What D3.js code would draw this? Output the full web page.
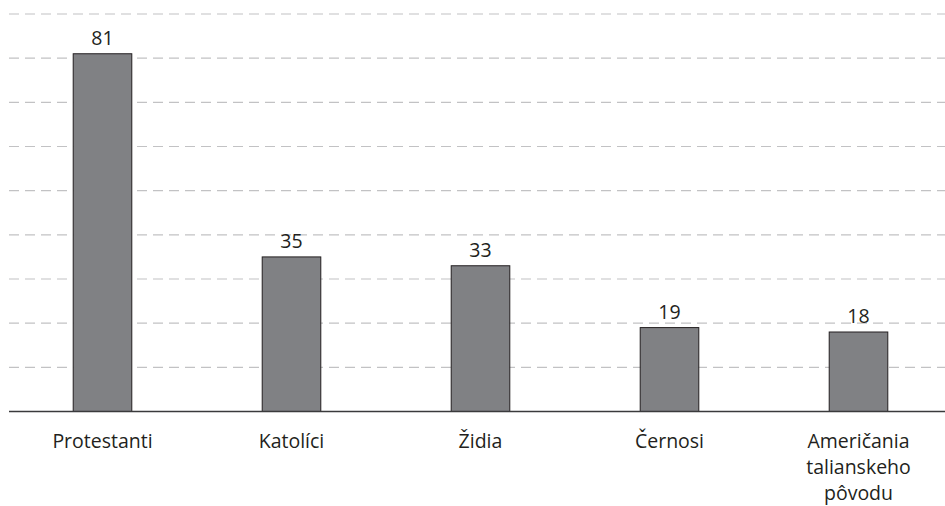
<!DOCTYPE html>
<html>
<head>
<meta charset="utf-8">
<script src="https://cdn.jsdelivr.net/npm/d3@7"></script>
<style>
  body { margin: 0; background: #fff; }
  text { font-family: "Open Sans", "Noto Sans", sans-serif; fill: #231f20; }
</style>
</head>
<body>
<div id="chart"></div>
<script>
var categories = ["Protestanti", "Katolíci", "Židia", "Černosi", "Američania talianskeho pôvodu"];
var values = [81, 35, 33, 19, 18];
var gridTicks = [10, 20, 30, 40, 50, 60, 70, 80, 90];

var width = 945, height = 506;
var plotLeft = 9, plotBottom = 411.5, plotTop = 14;

var svg = d3.select("#chart")
  .append("svg")
    .attr("width", width)
    .attr("height", height);

var x = d3.scaleBand()
  .domain(categories)
  .range([8, 953])
  .paddingInner(0.69)
  .paddingOuter(0.345);

var y = d3.scaleLinear()
  .domain([0, 90])
  .range([plotBottom, plotTop]);

// dashed grid
svg.append("g")
  .selectAll("line")
  .data(gridTicks)
  .enter().append("line")
    .attr("x1", plotLeft)
    .attr("x2", width)
    .attr("y1", function(d) { return y(d); })
    .attr("y2", function(d) { return y(d); })
    .style("stroke", "#c2c2c4")
    .style("stroke-width", 1.2)
    .style("stroke-dasharray", "10,6");

// bars
svg.append("g")
  .selectAll("rect")
  .data(values)
  .enter().append("rect")
    .attr("x", function(d, i) { return x(categories[i]); })
    .attr("y", function(d) { return y(d); })
    .attr("width", x.bandwidth())
    .attr("height", function(d) { return y(0) - y(d); })
    .style("fill", "#808184")
    .style("stroke", "#231f20")
    .style("stroke-width", 1);

// baseline
svg.append("line")
  .attr("x1", plotLeft)
  .attr("x2", width)
  .attr("y1", y(0))
  .attr("y2", y(0))
  .style("stroke", "#3a3a3c")
  .style("stroke-width", 1.5);

// value labels
svg.append("g")
  .selectAll("text")
  .data(values)
  .enter().append("text")
    .attr("x", function(d, i) { return x(categories[i]) + x.bandwidth() / 2; })
    .attr("y", function(d) { return y(d) - 9; })
    .attr("text-anchor", "middle")
    .style("font-size", "19.5px")
    .text(function(d) { return d; });

// category labels, wrapped like the original
var labelLines = [["Protestanti"], ["Katolíci"], ["Židia"], ["Černosi"], ["Američania", "talianskeho", "pôvodu"]];

svg.append("g")
  .selectAll("text")
  .data(categories)
  .enter().append("text")
    .attr("x", function(d) { return x(d) + x.bandwidth() / 2; })
    .attr("y", 448)
    .attr("text-anchor", "middle")
    .style("font-size", "19.5px")
    .each(function(d, i) {
      var t = d3.select(this);
      labelLines[i].forEach(function(line, j) {
        t.append("tspan")
          .attr("x", x(d) + x.bandwidth() / 2)
          .attr("dy", j == 0 ? 0 : 26)
          .text(line);
      });
    });
</script>
</body>
</html>
